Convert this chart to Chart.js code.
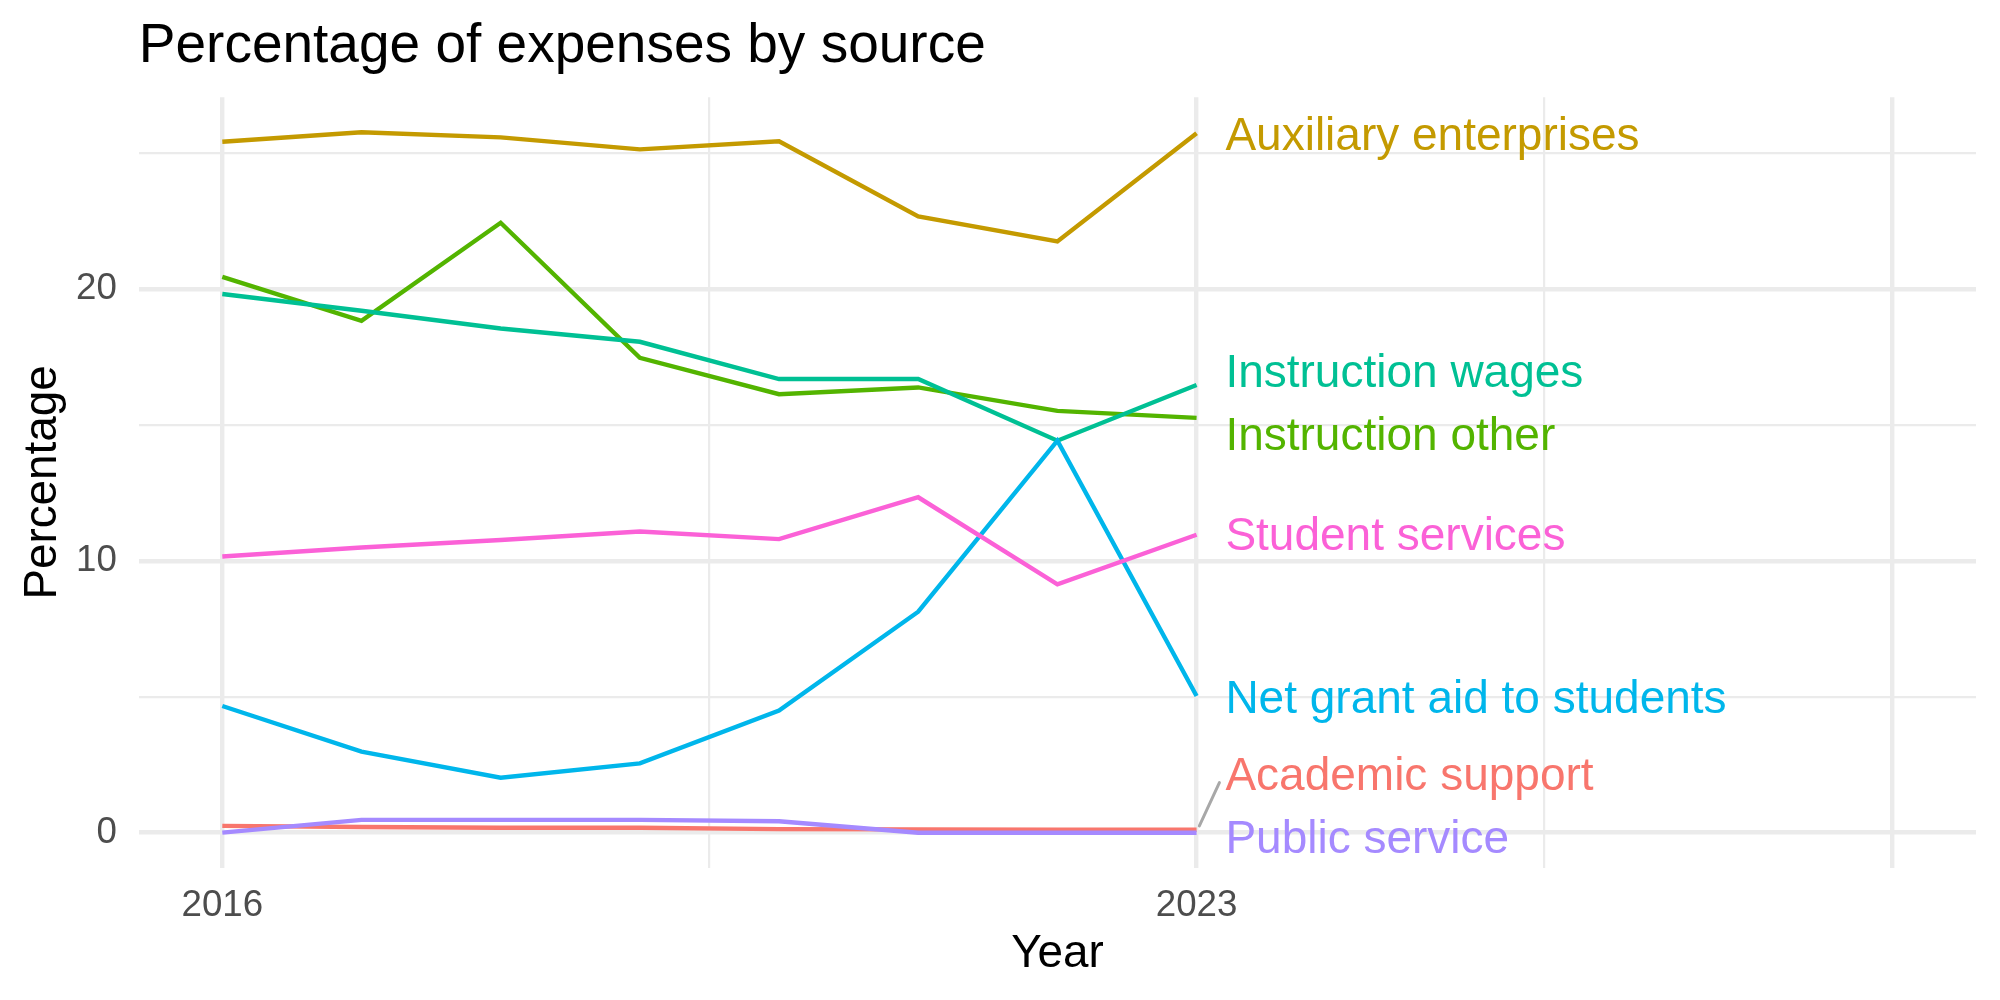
<!DOCTYPE html>
<html>
<head>
<meta charset="utf-8">
<title>Percentage of expenses by source</title>
<script src="https://cdn.jsdelivr.net/npm/chart.js@4.4.1/dist/chart.umd.min.js"></script>
<style>
  html, body { margin: 0; padding: 0; background: #ffffff; }
  #wrap { width: 2000px; height: 1000px; }
</style>
</head>
<body>
<div id="wrap"><canvas id="expensesChart"></canvas></div>
<script>
// Data
const years = [2016, 2017, 2018, 2019, 2020, 2021, 2022, 2023];

const categories = [
  "Academic support",
  "Auxiliary enterprises",
  "Instruction other",
  "Instruction wages",
  "Net grant aid to students",
  "Public service",
  "Student services",
];

const academicSupport = [0.25, 0.21, 0.18, 0.18, 0.13, 0.12, 0.11, 0.11];
const auxiliaryEnterprises = [25.42, 25.77, 25.58, 25.14, 25.44, 22.67, 21.75, 25.73];
const instructionOther = [20.45, 18.83, 22.44, 17.47, 16.13, 16.38, 15.52, 15.26];
const instructionWages = [19.82, 19.2, 18.55, 18.06, 16.69, 16.69, 14.42, 16.47];
const netGrantAid = [4.66, 2.98, 2.02, 2.55, 4.49, 8.13, 14.42, 5.03];
const publicService = [0, 0.47, 0.47, 0.47, 0.42, 0, 0, 0];
const studentServices = [10.16, 10.49, 10.77, 11.08, 10.8, 12.34, 9.14, 10.96];

const xTicks = [2016, 2019.5, 2023, 2025.5, 2028];
const xTickLabels = ["2016", "", "2023", "", ""];
const yTicks = [0, 5, 10, 15, 20, 25];
const yTickLabels = ["0", "", "10", "", "20", ""];

// ggplot hue palette
const colors = ["#F8766D", "#C49A00", "#53B400", "#00C094", "#00B6EB", "#A58AFF", "#FB61D7"];

// where the repelled labels ended up (in data units)
const labelX = 2023.207;
const labelY = [2.16, 25.73, 14.68, 17.02, 5.01, -0.15, 11.0];

const seriesValues = [
  academicSupport,
  auxiliaryEnterprises,
  instructionOther,
  instructionWages,
  netGrantAid,
  publicService,
  studentServices,
];

const fontFamily = '"Liberation Sans", Arial, Helvetica, sans-serif';

// Plugin: label di ujung garis + segmen penghubung
const endLabels = {
  id: "endLabels",
  afterDatasetsDraw(chart) {
    const { ctx } = chart;
    const x = chart.scales.x;
    const y = chart.scales.y;
    ctx.save();

    // segmen abu-abu untuk "Academic support"
    ctx.strokeStyle = "#a8a8a8";
    ctx.lineWidth = 3;
    ctx.lineCap = "round";
    ctx.beginPath();
    ctx.moveTo(x.getPixelForValue(2023.02), y.getPixelForValue(0.25));
    ctx.lineTo(x.getPixelForValue(2023.164), y.getPixelForValue(1.84));
    ctx.stroke();

    ctx.font = "46px " + fontFamily;
    ctx.textAlign = "left";
    ctx.textBaseline = "alphabetic";
    categories.forEach((name, i) => {
      ctx.fillStyle = colors[i];
      ctx.fillText(name, x.getPixelForValue(labelX), y.getPixelForValue(labelY[i]) + 16.5);
    });
    ctx.restore();
  },
};

function buatChart() {
  const ctx = document.getElementById("expensesChart").getContext("2d");

  const datasets = categories.map((name, i) => ({
    label: name,
    data: years.map((yr, j) => ({ x: yr, y: seriesValues[i][j] })),
    borderColor: colors[i],
    backgroundColor: colors[i],
    borderWidth: 4.4,
    pointRadius: 0,
    tension: 0,
    fill: false,
    order: categories.length - 1 - i, // later groups on top, like ggplot
  }));

  new Chart(ctx, {
    type: "line",
    data: { datasets: datasets },
    options: {
      responsive: true,
      maintainAspectRatio: false,
      animation: false,
      devicePixelRatio: 1,
      layout: {
        padding: { left: 0, right: 24, top: 0, bottom: 0 },
      },
      plugins: {
        legend: { display: false },
        tooltip: { enabled: false },
        title: {
          display: true,
          text: "Percentage of expenses by source",
          align: "start",
          fullSize: false,
          color: "#000000",
          font: { family: fontFamily, size: 55, weight: "normal", lineHeight: 1.2 },
          padding: { top: 14, bottom: 17.2 },
        },
      },
      scales: {
        x: {
          type: "linear",
          min: 2015.4,
          max: 2028.6,
          afterFit: (scale) => {
            scale.height = 132.3;
          },
          afterBuildTicks: (scale) => {
            scale.ticks = xTicks.map((v) => ({ value: v }));
          },
          border: { display: false },
          grid: {
            drawTicks: false,
            color: "#EBEBEB",
            lineWidth: (c) => (c.tick && xTickLabels[xTicks.indexOf(c.tick.value)] === "" && c.tick.value !== 2028 ? 2.2 : 4.4),
          },
          ticks: {
            autoSkip: false,
            maxRotation: 0,
            padding: 16,
            color: "#4D4D4D",
            font: { family: fontFamily, size: 36.7, lineHeight: 1.2 },
            callback: function (value) {
              const idx = xTicks.indexOf(value);
              return idx >= 0 ? xTickLabels[idx] : "";
            },
          },
          title: {
            display: true,
            text: "Year",
            color: "#000000",
            font: { family: fontFamily, size: 45.8, lineHeight: 1.2 },
            padding: { top: 0, bottom: 18 },
          },
        },
        y: {
          type: "linear",
          min: -1.2885,
          max: 27.0585,
          afterFit: (scale) => {
            scale.width = 138.8;
          },
          afterBuildTicks: (scale) => {
            scale.ticks = yTicks.map((v) => ({ value: v }));
          },
          border: { display: false },
          grid: {
            drawTicks: false,
            color: "#EBEBEB",
            lineWidth: (c) => (c.tick && c.tick.value % 10 === 0 ? 4.4 : 2.2),
          },
          ticks: {
            autoSkip: false,
            padding: 22,
            color: "#4D4D4D",
            font: { family: fontFamily, size: 36.7, lineHeight: 1.2 },
            callback: function (value) {
              const idx = yTicks.indexOf(value);
              return idx >= 0 ? yTickLabels[idx] : "";
            },
          },
          title: {
            display: true,
            text: "Percentage",
            color: "#000000",
            font: { family: fontFamily, size: 45.8, lineHeight: 1.2 },
            padding: { top: 16, bottom: 0 },
          },
        },
      },
    },
    plugins: [endLabels],
  });
}

document.addEventListener("DOMContentLoaded", function () {
  buatChart();
});
</script>
</body>
</html>
